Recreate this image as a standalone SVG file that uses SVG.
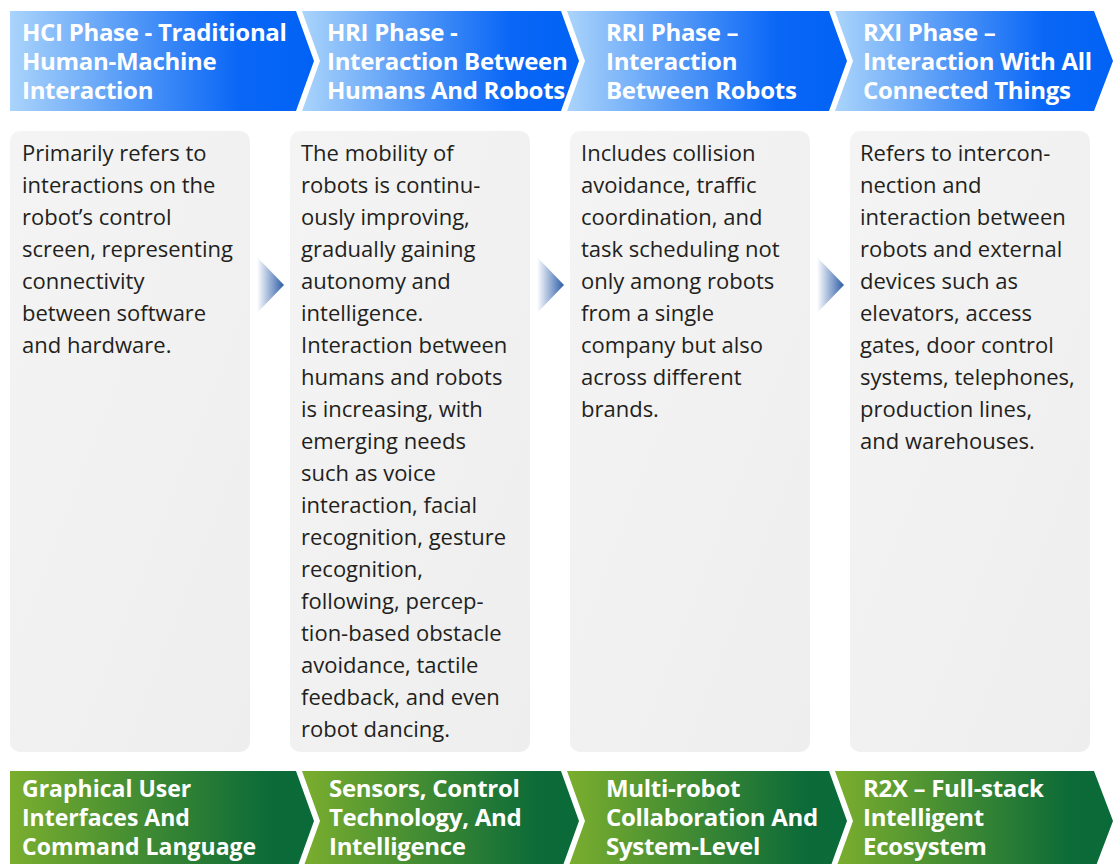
<svg xmlns="http://www.w3.org/2000/svg" width="1120" height="864" viewBox="0 0 1120 864">
<style>
.hd{font-family:"Open Sans","Noto Sans","Liberation Sans",sans-serif;font-weight:700;font-size:24px;letter-spacing:-0.3px;fill:#ffffff;}
.hs{font-size:23px;letter-spacing:0px;}
.bd{font-family:"Open Sans","Noto Sans","Liberation Sans",sans-serif;font-size:22px;fill:#231f20;}
.box{fill:url(#gray);}
</style>
<defs>
<linearGradient id="blue" x1="0" y1="0" x2="1" y2="0">
<stop offset="0" stop-color="#aad4fb"/>
<stop offset="0.4" stop-color="#5298f7"/>
<stop offset="0.75" stop-color="#0a67f6"/>
<stop offset="1" stop-color="#0062f5"/>
</linearGradient>
<linearGradient id="green" x1="0" y1="0" x2="1" y2="0">
<stop offset="0" stop-color="#7bae2e"/>
<stop offset="0.45" stop-color="#3f8a33"/>
<stop offset="0.85" stop-color="#0c6b38"/>
<stop offset="1" stop-color="#0a6a39"/>
</linearGradient>
<linearGradient id="gray" x1="0" y1="0" x2="1" y2="1">
<stop offset="0" stop-color="#f4f4f4"/>
<stop offset="1" stop-color="#eeeeee"/>
</linearGradient>
<linearGradient id="tri" x1="0" y1="0" x2="1" y2="0">
<stop offset="0" stop-color="#ffffff"/>
<stop offset="1" stop-color="#2c5ca8"/>
</linearGradient>
</defs>

<g id="phase-hci">
<polygon points="10,11 296,11 314,61 296,111 10,111" fill="url(#blue)"/>
<text class="hd"><tspan x="22" y="41">HCI Phase - Traditional</tspan><tspan x="22" y="70">Human-Machine</tspan><tspan x="22" y="99">Interaction</tspan></text>
</g>
<g id="phase-hri">
<polygon points="302,11 561,11 579,61 561,111 302,111 320,61" fill="url(#blue)"/>
<text class="hd"><tspan x="327" y="41">HRI Phase -</tspan><tspan x="327" y="70">Interaction Between</tspan><tspan x="327" y="99">Humans And Robots</tspan></text>
</g>
<g id="phase-rri">
<polygon points="567,11 829,11 847,61 829,111 567,111 585,61" fill="url(#blue)"/>
<text class="hd"><tspan x="606" y="41">RRI Phase –</tspan><tspan x="606" y="70">Interaction</tspan><tspan x="606" y="99">Between Robots</tspan></text>
</g>
<g id="phase-rxi">
<polygon points="835,11 1094,11 1113,61 1094,111 835,111 853,61" fill="url(#blue)"/>
<text class="hd"><tspan x="863" y="41">RXI Phase –</tspan><tspan x="863" y="70">Interaction With All</tspan><tspan x="863" y="99">Connected Things</tspan></text>
</g>

<g id="desc-hci">
<rect class="box" x="10" y="131" width="240" height="621" rx="10"/>
<text class="bd"><tspan x="22" y="161">Primarily refers to</tspan><tspan x="22" y="193">interactions on the</tspan><tspan x="22" y="225">robot’s control</tspan><tspan x="22" y="257">screen, representing</tspan><tspan x="22" y="289">connectivity</tspan><tspan x="22" y="321">between software</tspan><tspan x="22" y="353">and hardware.</tspan></text>
</g>
<g id="desc-hri">
<rect class="box" x="290" y="131" width="240" height="621" rx="10"/>
<text class="bd"><tspan x="301" y="161">The mobility of</tspan><tspan x="301" y="193">robots is continu-</tspan><tspan x="301" y="225">ously improving,</tspan><tspan x="301" y="257">gradually gaining</tspan><tspan x="301" y="289">autonomy and</tspan><tspan x="301" y="321">intelligence.</tspan><tspan x="301" y="353">Interaction between</tspan><tspan x="301" y="385">humans and robots</tspan><tspan x="301" y="417">is increasing, with</tspan><tspan x="301" y="449">emerging needs</tspan><tspan x="301" y="481">such as voice</tspan><tspan x="301" y="513">interaction, facial</tspan><tspan x="301" y="545">recognition, gesture</tspan><tspan x="301" y="577">recognition,</tspan><tspan x="301" y="609">following, percep-</tspan><tspan x="301" y="641">tion-based obstacle</tspan><tspan x="301" y="673">avoidance, tactile</tspan><tspan x="301" y="705">feedback, and even</tspan><tspan x="301" y="737">robot dancing.</tspan></text>
</g>
<g id="desc-rri">
<rect class="box" x="570" y="131" width="240" height="621" rx="10"/>
<text class="bd"><tspan x="581" y="161">Includes collision</tspan><tspan x="581" y="193">avoidance, traffic</tspan><tspan x="581" y="225">coordination, and</tspan><tspan x="581" y="257">task scheduling not</tspan><tspan x="581" y="289">only among robots</tspan><tspan x="581" y="321">from a single</tspan><tspan x="581" y="353">company but also</tspan><tspan x="581" y="385">across different</tspan><tspan x="581" y="417">brands.</tspan></text>
</g>
<g id="desc-rxi">
<rect class="box" x="850" y="131" width="240" height="621" rx="10"/>
<text class="bd"><tspan x="860" y="161">Refers to intercon-</tspan><tspan x="860" y="193">nection and</tspan><tspan x="860" y="225">interaction between</tspan><tspan x="860" y="257">robots and external</tspan><tspan x="860" y="289">devices such as</tspan><tspan x="860" y="321">elevators, access</tspan><tspan x="860" y="353">gates, door control</tspan><tspan x="860" y="385">systems, telephones,</tspan><tspan x="860" y="417">production lines,</tspan><tspan x="860" y="449">and warehouses.</tspan></text>
</g>

<g id="connectors">
<polygon points="257,257 284,285 257,313" fill="url(#tri)"/>
<polygon points="537,257 564,285 537,313" fill="url(#tri)"/>
<polygon points="817,257 844,285 817,313" fill="url(#tri)"/>
</g>

<g id="tech-gui">
<polygon points="10,771 296,771 314,821 296,871 10,871" fill="url(#green)"/>
<text class="hd hs"><tspan x="22" y="797">Graphical User</tspan><tspan x="22" y="826">Interfaces And</tspan><tspan x="22" y="855">Command Language</tspan></text>
</g>
<g id="tech-sensors">
<polygon points="302,771 561,771 579,821 561,871 302,871 320,821" fill="url(#green)"/>
<text class="hd"><tspan x="329" y="797">Sensors, Control</tspan><tspan x="329" y="826">Technology, And</tspan><tspan x="329" y="855">Intelligence</tspan></text>
</g>
<g id="tech-multirobot">
<polygon points="567,771 829,771 847,821 829,871 567,871 585,821" fill="url(#green)"/>
<text class="hd"><tspan x="606" y="797">Multi-robot</tspan><tspan x="606" y="826">Collaboration And</tspan><tspan x="606" y="855">System-Level</tspan></text>
</g>
<g id="tech-r2x">
<polygon points="835,771 1094,771 1113,821 1094,871 835,871 853,821" fill="url(#green)"/>
<text class="hd"><tspan x="863" y="797">R2X – Full-stack</tspan><tspan x="863" y="826">Intelligent</tspan><tspan x="863" y="855">Ecosystem</tspan></text>
</g>
</svg>
